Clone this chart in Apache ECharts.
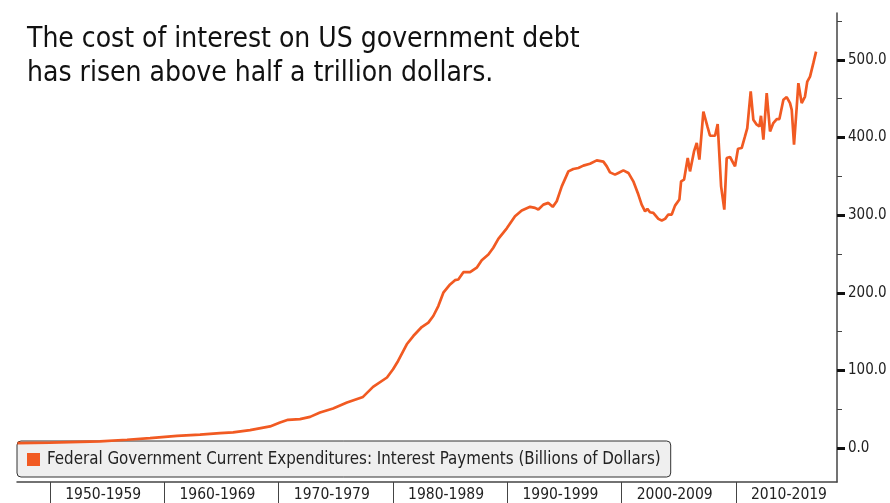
<!DOCTYPE html>
<html>
<head>
<meta charset="utf-8">
<script src="https://cdn.jsdelivr.net/npm/echarts@6/dist/echarts.min.js"></script>
<style>
html,body{margin:0;padding:0;background:#fff;}
#chart{width:890px;height:503px;}
</style>
</head>
<body>
<div id="chart"></div>
<script>
// ---- data ----
const titleText = "The cost of interest on US government debt\nhas risen above half a trillion dollars.";
const seriesName = "Federal Government Current Expenditures: Interest Payments (Billions of Dollars)";

const decadeStarts = [1950, 1960, 1970, 1980, 1990, 2000, 2010];
const decadeLabels = ["1950-1959", "1960-1969", "1970-1979", "1980-1989", "1990-1999", "2000-2009", "2010-2019"];
const yLabelValues = [0, 100, 200, 300, 400, 500];
const yMinorTicks = [0, 50, 100, 150, 200, 250, 300, 350, 400, 450, 500, 550];

const years = [
  1947.15, 1950.00, 1954.37, 1956.74, 1958.75, 1961.11, 1963.12, 1964.87, 1966.01, 1967.50, 1969.25,
  1970.12, 1970.82, 1971.87, 1972.75, 1973.62, 1974.76, 1975.98, 1977.38, 1978.26, 1979.48,
  1980.01, 1980.45, 1981.21, 1981.78, 1982.52, 1983.10, 1983.53, 1983.97, 1984.41, 1985.00,
  1985.43, 1985.72, 1986.16, 1986.75, 1987.33, 1987.77, 1988.35, 1988.78, 1989.22, 1989.96,
  1990.68, 1991.27, 1992.00, 1992.43, 1992.72, 1993.16, 1993.60, 1993.98, 1994.33, 1994.77,
  1995.35, 1995.78, 1996.22, 1996.66, 1997.24, 1997.83, 1998.41, 1998.71, 1998.99, 1999.43, 1999.72,
  2000.16, 2000.60, 2001.03, 2001.47, 2001.76, 2002.06, 2002.26, 2002.49, 2002.78, 2003.22, 2003.52,
  2003.81, 2004.09, 2004.39, 2004.68, 2005.06, 2005.21, 2005.47, 2005.79, 2005.99, 2006.34, 2006.58,
  2006.81, 2007.16, 2007.51, 2007.74, 2008.18, 2008.41, 2008.71, 2008.99, 2009.20, 2009.49, 2009.93,
  2010.19, 2010.51, 2010.80, 2011.00, 2011.30, 2011.53, 2011.83, 2012.06, 2012.20, 2012.41,
  2012.70, 2012.99, 2013.28, 2013.58, 2013.81, 2014.16, 2014.45, 2014.74, 2014.89, 2015.09,
  2015.33, 2015.47, 2015.76, 2016.05, 2016.25, 2016.49, 2016.78, 2017.02
];
const values = [
  6.5, 7.0, 8.6, 10.7, 12.9, 15.8, 17.3, 19.3, 20.2, 23.1, 27.9,
  33.0, 36.4, 37.3, 40.2, 45.9, 51.0, 58.7, 65.9, 78.8, 90.9,
  101.5, 112.2, 133.7, 144.3, 155.9, 161.6, 170.1, 182.9, 200.1, 210.8,
  216.3, 217.2, 226.6, 226.6, 232.3, 242.0, 249.4, 258.0, 269.5, 283.0,
  298.6, 306.0, 310.7, 309.4, 307.2, 313.6, 315.8, 310.7, 317.9, 337.1,
  356.4, 359.5, 360.8, 363.8, 366.3, 370.6, 368.9, 362.9, 355.1, 352.2, 354.4,
  357.7, 354.4, 343.6, 326.5, 313.6, 305.0, 308.1, 303.7, 302.9, 295.2, 293.1,
  295.2, 300.8, 300.8, 312.3, 320.1, 343.6, 345.8, 373.7, 356.4, 382.1, 392.9,
  371.5, 433.5, 414.3, 402.3, 402.3, 417.4, 337.1, 307.2, 373.7, 374.9, 362.9,
  385.6, 386.5, 401.4, 412.2, 459.3, 422.9, 416.5, 414.3, 428.0, 397.2,
  457.2, 407.8, 418.6, 423.8, 423.8, 448.6, 452.1, 444.3, 435.7, 390.7,
  440.0, 470.1, 444.3, 452.8, 472.1, 478.5, 495.8, 510.7
];

// ---- chart ----
const FONT = "'DejaVu Sans Condensed', 'DejaVu Sans', sans-serif";
const LINE_COLOR = '#F15A22';
const X_MIN = 1947.11, X_MAX = 2018.85;
const Y_MIN = -43.7, Y_MAX = 560.4;
const LABEL_SHIFT = 4.65; // decade label centre offset from decade start

const labelPositions = decadeStarts.map(d => d + LABEL_SHIFT);

const chart = echarts.init(document.getElementById('chart'), null, {renderer: 'canvas'});
chart.setOption({
  animation: false,
  backgroundColor: '#ffffff',
  textStyle: {fontFamily: FONT},
  title: {
    text: titleText,
    left: 22,
    top: 18,
    textStyle: {fontFamily: FONT, fontSize: 28, fontWeight: 'normal', color: '#111', lineHeight: 34}
  },
  legend: {
    data: [seriesName],
    left: 17,
    top: 441,
    orient: 'horizontal',
    icon: 'rect',
    itemWidth: 13,
    itemHeight: 13,
    padding: [10, 10, 9, 10],
    backgroundColor: '#efefef',
    borderColor: '#333',
    borderWidth: 1,
    borderRadius: 4,
    z: 3,
    textStyle: {fontFamily: FONT, fontSize: 16.8, color: '#222', padding: [0, 0, 0, 2]}
  },
  grid: {left: 17, right: 53, top: 13, bottom: 20, containLabel: false},
  xAxis: {
    type: 'value',
    min: X_MIN,
    max: X_MAX,
    splitLine: {show: false},
    axisLine: {show: true, onZero: false, lineStyle: {color: '#444', width: 1.5}},
    axisTick: {show: true, customValues: decadeStarts, length: 22, inside: false, lineStyle: {color: '#444', width: 1}},
    axisLabel: {
      show: true,
      customValues: labelPositions,
      margin: 5,
      fontFamily: FONT,
      fontSize: 15.5,
      color: '#222',
      formatter: function (v) {
        const i = labelPositions.findIndex(p => Math.abs(p - v) < 0.01);
        return i >= 0 ? decadeLabels[i] : '';
      }
    }
  },
  yAxis: [{
    type: 'value',
    position: 'right',
    min: Y_MIN,
    max: Y_MAX,
    splitLine: {show: false},
    axisLine: {show: true, lineStyle: {color: '#444', width: 1.5}},
    axisTick: {show: true, customValues: yMinorTicks, length: 5, inside: false, lineStyle: {color: '#444', width: 1}},
    axisLabel: {
      show: true,
      customValues: yLabelValues,
      margin: 11,
      fontFamily: FONT,
      fontSize: 15,
      color: '#222',
      formatter: v => v.toFixed(1)
    }
  }, {
    type: 'value',
    position: 'right',
    min: Y_MIN,
    max: Y_MAX,
    splitLine: {show: false},
    axisLine: {show: false},
    axisTick: {show: true, customValues: yLabelValues, length: 8, inside: false, lineStyle: {color: '#111', width: 3}},
    axisLabel: {show: false}
  }],
  series: [{
    name: seriesName,
    type: 'line',
    yAxisIndex: 0,
    data: years.map((y, i) => [y, values[i]]),
    showSymbol: false,
    symbol: 'none',
    z: 5,
    lineStyle: {color: LINE_COLOR, width: 2.7},
    itemStyle: {color: LINE_COLOR}
  }]
});
</script>
</body>
</html>
